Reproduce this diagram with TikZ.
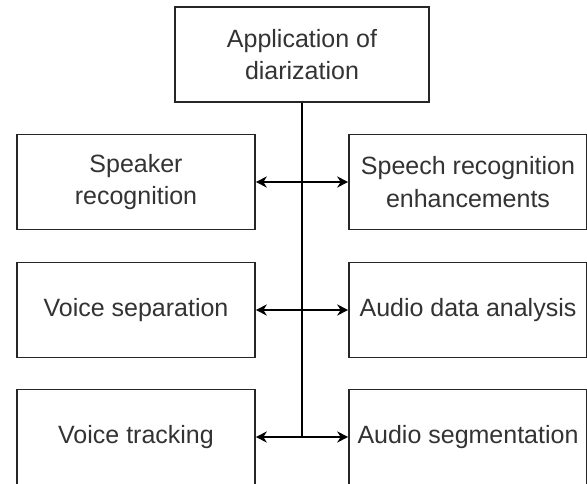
\documentclass[tikz,border=0pt]{standalone}
\usepackage{fontspec}
\setmainfont{Liberation Sans}
\usetikzlibrary{arrows.meta}
\begin{document}
\begin{tikzpicture}[x=1pt,y=-1pt,
  box/.style={draw=black!85, line width=1.6pt, rectangle, minimum height=95pt, inner sep=0pt,
    align=center, text=black!80, font=\fontsize{25}{32.5}\selectfont},
  topbox/.style={box, minimum width=254pt},
  sidebox/.style={box, minimum width=238pt},
  link/.style={line width=1.8pt, black},
  biarrow/.style={link, {Stealth[length=11pt,width=11pt,inset=3.5pt]}-{Stealth[length=11pt,width=11pt,inset=3.5pt]}}]
\clip (0,0) rectangle (587,484);
\fill[white] (0,0) rectangle (587,484);
\node[topbox] (top) at (302,54.5) {Application of\\diarization};
\node[sidebox] (sr) at (136,182) {Speaker\\recognition};
\node[sidebox] (sre) at (468,182) {Speech recognition\\enhancements};
\node[sidebox] (vs) at (136,310) {Voice separation};
\node[sidebox] (ada) at (468,310) {Audio data analysis};
\node[sidebox] (vt) at (136,437) {Voice tracking};
\node[sidebox] (as) at (468,437) {Audio segmentation};
\coordinate (end) at (302,437);
\draw[link] (top.south) -- (end);
\draw[biarrow] (sr.east) -- (sre.west);
\draw[biarrow] (vs.east) -- (ada.west);
\draw[biarrow] (vt.east) -- (as.west);
\end{tikzpicture}
\end{document}
